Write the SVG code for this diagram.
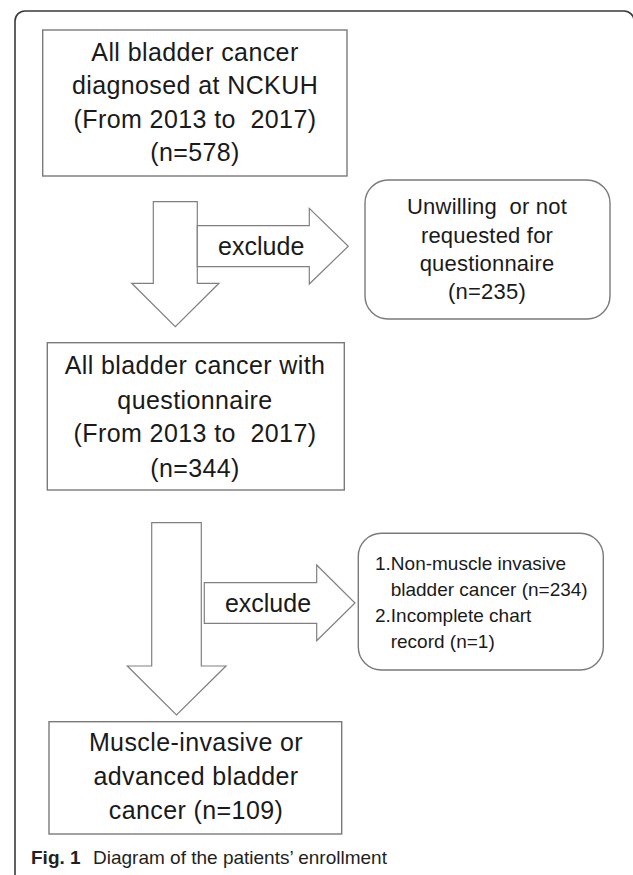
<svg xmlns="http://www.w3.org/2000/svg" width="633" height="875" viewBox="0 0 633 875">
<style>
  .frame { fill: none; stroke: #3a3a3a; stroke-width: 1.6; }
  .box { fill: #ffffff; stroke: #7a7a7a; stroke-width: 1.4; }
  .arrow { fill: #ffffff; stroke: #808080; stroke-width: 1.2; stroke-linejoin: miter; }
  text { font-family: "Liberation Sans", Arial, sans-serif; fill: #1a1a1a; }
  .big { font-size: 25px; letter-spacing: 0.4px; text-anchor: middle; }
  .mid { font-size: 22px; letter-spacing: 0.2px; text-anchor: middle; }
  .small { font-size: 19px; }
  .lbl { font-size: 25px; text-anchor: middle; }
  .cap { font-size: 19px; fill: #231f20; }
  .capb { font-size: 19px; font-weight: bold; fill: #231f20; }
</style>
<rect width="633" height="875" fill="#ffffff"/>
<path class="frame" d="M15,875 V21 A10,10 0 0 1 25,11 H624 A10,10 0 0 1 634,21 V875"/>

<g id="connectors">
  <polygon class="arrow" points="153.3,201.7 197.3,201.7 197.3,283.3 219,283.3 175.3,326.7 131.7,283.3 153.3,283.3"/>
  <polygon class="arrow" points="197.3,225.7 309.3,225.7 309.3,208.3 348.3,246.2 309.3,284 309.3,266.7 197.3,266.7"/>
  <text class="lbl" x="261.2" y="255">exclude</text>
  <polygon class="arrow" points="151.7,522.7 201.3,522.7 201.3,666 226,666 176.5,715 127.3,666 151.7,666"/>
  <polygon class="arrow" points="204.3,582.7 316.7,582.7 316.7,565 355,603 316.7,640.7 316.7,623.3 204.3,623.3"/>
  <text class="lbl" x="268" y="611.7">exclude</text>
</g>

<g id="node-all">
  <rect class="box" x="42.7" y="30" width="304.3" height="146"/>
  <text class="big" x="195" y="61" xml:space="preserve">All bladder cancer</text>
  <text class="big" x="195" y="94" xml:space="preserve">diagnosed at NCKUH</text>
  <text class="big" x="195" y="127.5" xml:space="preserve">(From 2013 to  2017)</text>
  <text class="big" x="195" y="161" xml:space="preserve">(n=578)</text>
</g>

<g id="node-unwilling">
  <rect class="box" x="365" y="180" width="245" height="139" rx="23" ry="23"/>
  <text class="mid" x="487" y="214.3" xml:space="preserve">Unwilling  or not</text>
  <text class="mid" x="487" y="242.7" xml:space="preserve">requested for</text>
  <text class="mid" x="487" y="270.7" xml:space="preserve">questionnaire</text>
  <text class="mid" x="487" y="299" xml:space="preserve">(n=235)</text>
</g>

<g id="node-questionnaire">
  <rect class="box" x="47.3" y="342.7" width="297" height="147.3"/>
  <text class="big" x="195" y="374.3" xml:space="preserve">All bladder cancer with</text>
  <text class="big" x="195" y="408.5" xml:space="preserve">questionnaire</text>
  <text class="big" x="195" y="442" xml:space="preserve">(From 2013 to  2017)</text>
  <text class="big" x="195" y="476.7" xml:space="preserve">(n=344)</text>
</g>

<g id="node-excluded2">
  <rect class="box" x="358.3" y="533.3" width="245" height="136.7" rx="23" ry="23"/>
  <text class="small" x="375" y="570" xml:space="preserve">1.Non-muscle invasive</text>
  <text class="small" x="390.7" y="596" xml:space="preserve">bladder cancer (n=234)</text>
  <text class="small" x="375" y="621.7" xml:space="preserve">2.Incomplete chart</text>
  <text class="small" x="390.7" y="647.7" xml:space="preserve">record (n=1)</text>
</g>

<g id="node-mibc">
  <rect class="box" x="49" y="721.7" width="292.7" height="112.3"/>
  <text class="big" x="196" y="750.7" xml:space="preserve">Muscle-invasive or</text>
  <text class="big" x="196" y="785" xml:space="preserve">advanced bladder</text>
  <text class="big" x="196" y="819.3" xml:space="preserve">cancer (n=109)</text>
</g>

<g id="caption">
  <text class="capb" x="31" y="864">Fig. 1</text>
  <text class="cap" x="93" y="864">Diagram of the patients’ enrollment</text>
</g>
</svg>
